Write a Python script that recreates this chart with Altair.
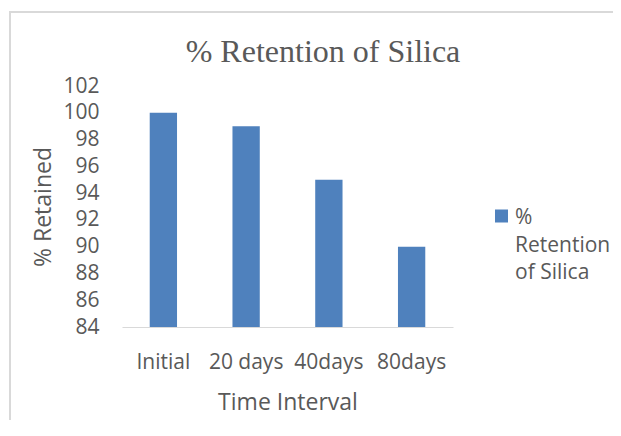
import altair as alt
import pandas as pd

# ---- data ----
categories = ["Initial", "20 days", "40days", "80days"]
values = [100, 99, 95, 90]
y_ticks = [84, 86, 88, 90, 92, 94, 96, 98, 100, 102]
series_name = "% Retention of Silica"
legend_lines = ["%", "Retention", "of Silica"]
chart_title = "% Retention of Silica"
x_title = "Time Interval"
y_title = "% Retained"

df = pd.DataFrame({"interval": categories, "retained": values, "series": series_name})

W, H = 331, 241
TEXT = "#595959"
FONT = "Open Sans"
BAR = "#4F81BD"
LINE = "#D9D9D9"

bars = alt.Chart(df).mark_bar(color=BAR, clip=True).encode(
    x=alt.X(
        "interval:N",
        sort=categories,
        scale=alt.Scale(paddingInner=0.67, paddingOuter=0.335),
        axis=alt.Axis(
            title=x_title,
            labelAngle=0,
            ticks=False,
            tickSize=0,
            domainColor=LINE,
            domainWidth=1,
            labelPadding=35,
            labelBaseline="middle",
            labelFont=FONT,
            labelFontSize=21,
            labelColor=TEXT,
            titleFont=FONT,
            titleFontSize=23,
            titleFontWeight="normal",
            titleColor=TEXT,
            titleX=W / 2,
            titleY=75,
            titleBaseline="middle",
        ),
    ),
    y=alt.Y(
        "retained:Q",
        scale=alt.Scale(domain=[84, 102], nice=False, zero=False),
        axis=alt.Axis(
            values=y_ticks,
            grid=False,
            domain=False,
            ticks=False,
            tickSize=0,
            labelPadding=23,
            labelFont=FONT,
            labelFontSize=21,
            labelColor=TEXT,
            title=y_title,
            titleFont=FONT,
            titleFontSize=23,
            titleFontWeight="normal",
            titleColor=TEXT,
            titleAngle=270,
            titleX=-79,
            titleY=H / 2,
            titleBaseline="middle",
            titleAlign="center",
        ),
    ),
)

one = pd.DataFrame({"k": [0]})

border = alt.Chart(one).mark_rect(fillOpacity=0, stroke=LINE, strokeWidth=2).encode(
    x=alt.value(-112), x2=alt.value(700), y=alt.value(-74), y2=alt.value(500)
)

title_text = alt.Chart(one).mark_text(
    align="center", baseline="alphabetic", font="Liberation Serif", fontSize=32, color=TEXT
).encode(x=alt.value(201), y=alt.value(-24), text=alt.value(chart_title))

legend_symbol = alt.Chart(one).mark_square(color=BAR, size=169, opacity=1).encode(
    x=alt.value(379.5), y=alt.value(130)
)

legend_text = alt.Chart(one).mark_text(
    align="left", baseline="middle", font=FONT, fontSize=21, color=TEXT, lineHeight=27.5
).encode(x=alt.value(393), y=alt.value(132), text=alt.value(legend_lines))

chart = (
    alt.layer(border, bars, title_text, legend_symbol, legend_text)
    .properties(
        width=W,
        height=H,
        autosize=alt.AutoSizeParams(type="none"),
        padding={"left": 114, "top": 78, "right": 160, "bottom": 93},
    )
    .configure_view(stroke=None)
)

chart.save("out.html", embed_options={"renderer": "svg", "actions": False})
